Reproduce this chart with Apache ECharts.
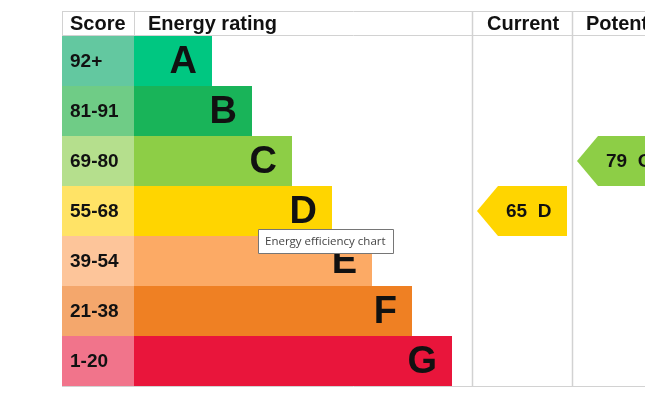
<!DOCTYPE html>
<html>
<head>
<meta charset="utf-8">
<title>Energy efficiency chart</title>
<script src="https://cdn.jsdelivr.net/npm/echarts@6/dist/echarts.min.js"></script>
<style>
  html, body { margin: 0; padding: 0; background: #fff; }
  #epc { width: 645px; height: 399px; }
</style>
</head>
<body>
<div id="epc"></div>
<script>
// rating bands, top (best) to bottom (worst)
var bands = ['A', 'B', 'C', 'D', 'E', 'F', 'G']
var scoreRanges = ['92+', '81-91', '69-80', '55-68', '39-54', '21-38', '1-20']
// length of each coloured rating bar, in axis units
var bandLengths = [78, 118, 158, 198, 238, 278, 318]
var scoreColumn = [72, 72, 72, 72, 72, 72, 72]
var bandColors = ['#00c781', '#19b459', '#8dce46', '#ffd500', '#fcaa65', '#ef8023', '#e9153b']
var scoreColors = ['#63c8a0', '#6fcc86', '#b5df8d', '#ffe366', '#fdc59a', '#f4a76c', '#f1748b']

// [score, band index, column index (0 = current, 1 = potential)]
var ratings = [
  [65, 3, 0],
  [79, 2, 1]
]

// table layout (axis units)
var columnStart = [410, 510]
var arrowGap = 5
var arrowLength = 90
var arrowTip = 21

var FONT = '"Liberation Sans", Arial, sans-serif'
var LINE = '#d2d2d2'

var chart = echarts.init(document.getElementById('epc'))

var option = {
  animation: false,
  backgroundColor: '#fff',
  grid: { left: 62, top: 36, width: 583, height: 350 },
  xAxis: { type: 'value', min: 0, max: 583, show: false },
  yAxis: { type: 'category', data: bands, inverse: true, show: false },
  series: [
    {
      name: 'score',
      type: 'bar',
      stack: 'row',
      barWidth: '100%',
      data: scoreColumn.map(function (v, i) {
        return { value: v, itemStyle: { color: scoreColors[i] } }
      }),
      label: {
        show: true,
        position: 'insideLeft',
        distance: 8,
        offset: [0, 1],
        formatter: function (p) { return scoreRanges[p.dataIndex] },
        color: '#111',
        fontFamily: FONT,
        fontWeight: 'bold',
        fontSize: 19
      }
    },
    {
      name: 'rating',
      type: 'bar',
      stack: 'row',
      barWidth: '100%',
      data: bandLengths.map(function (v, i) {
        return { value: v, itemStyle: { color: bandColors[i] } }
      }),
      label: {
        show: true,
        position: 'insideRight',
        distance: 15,
        offset: [0, 2],
        formatter: '{b}',
        color: '#111',
        fontFamily: FONT,
        fontWeight: 'bold',
        fontSize: 38
      }
    },
    {
      name: 'arrows',
      type: 'custom',
      data: ratings,
      encode: { x: 0, y: 1 },
      renderItem: function (params, api) {
        var band = api.value(1)
        var col = api.value(2)
        var x0 = columnStart[col] + arrowGap
        var left = api.coord([x0, band])
        var right = api.coord([x0 + arrowLength, band])
        var h = api.size([0, 1])[1]
        var y0 = left[1] - h / 2
        var y1 = left[1] + h / 2
        return {
          type: 'group',
          children: [
            {
              type: 'polygon',
              shape: {
                points: [
                  [left[0], left[1]],
                  [left[0] + arrowTip, y0],
                  [right[0], y0],
                  [right[0], y1],
                  [left[0] + arrowTip, y1]
                ]
              },
              style: { fill: bandColors[band] }
            },
            {
              type: 'text',
              style: {
                text: api.value(0) + '  ' + bands[band],
                x: left[0] + 29,
                y: left[1] + 1,
                verticalAlign: 'middle',
                fill: '#111',
                font: 'bold 19px ' + FONT
              }
            }
          ]
        }
      }
    }
  ],
  graphic: [
    // table rules
    { type: 'line', shape: { x1: 62, y1: 11.5, x2: 645, y2: 11.5 }, style: { stroke: LINE } },
    { type: 'line', shape: { x1: 62, y1: 35.5, x2: 645, y2: 35.5 }, style: { stroke: LINE } },
    { type: 'line', shape: { x1: 62, y1: 386.5, x2: 645, y2: 386.5 }, style: { stroke: LINE } },
    { type: 'line', shape: { x1: 62.5, y1: 11, x2: 62.5, y2: 36 }, style: { stroke: LINE } },
    { type: 'line', shape: { x1: 134.5, y1: 11, x2: 134.5, y2: 36 }, style: { stroke: LINE } },
    { type: 'line', shape: { x1: 472.5, y1: 11, x2: 472.5, y2: 387 }, style: { stroke: LINE, lineWidth: 1.5 } },
    { type: 'line', shape: { x1: 572.5, y1: 11, x2: 572.5, y2: 387 }, style: { stroke: LINE, lineWidth: 1.5 } },
    // header
    { type: 'text', x: 70, y: 24, style: { text: 'Score', verticalAlign: 'middle', fill: '#111', font: 'bold 20px ' + FONT } },
    { type: 'text', x: 148, y: 24, style: { text: 'Energy rating', verticalAlign: 'middle', fill: '#111', font: 'bold 20px ' + FONT } },
    { type: 'text', x: 487, y: 24, style: { text: 'Current', verticalAlign: 'middle', fill: '#111', font: 'bold 20px ' + FONT } },
    { type: 'text', x: 586, y: 24, style: { text: 'Potential', verticalAlign: 'middle', fill: '#111', font: 'bold 20px ' + FONT } },
    // hover tooltip
    { type: 'rect', z: 100, shape: { x: 258.5, y: 229.5, width: 135, height: 24 }, style: { fill: '#fff', stroke: '#767676' } },
    { type: 'text', z: 101, x: 265, y: 241.5, style: { text: 'Energy efficiency chart', verticalAlign: 'middle', fill: '#444', font: '11.5px "Open Sans", sans-serif' } }
  ]
}

chart.setOption(option)
</script>
</body>
</html>
